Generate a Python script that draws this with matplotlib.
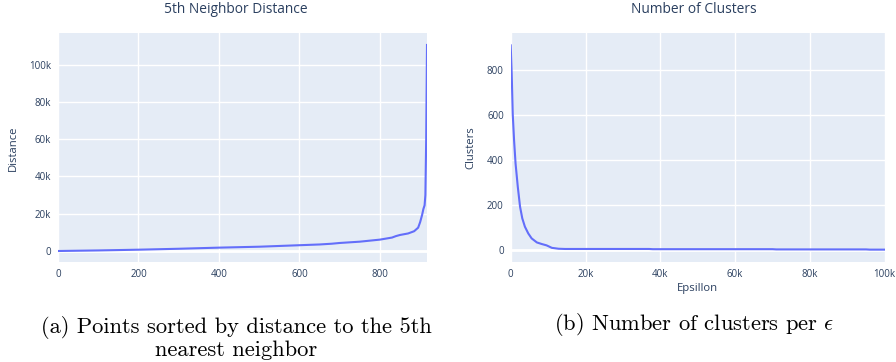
import matplotlib
matplotlib.use("Agg")
import matplotlib.pyplot as plt
from matplotlib.ticker import FuncFormatter

# 5th neighbor distance (sorted)
dist_idx = [0, 50, 100, 200, 300, 400, 500, 550, 600, 650, 680, 700, 750, 800,
            830, 840, 850, 870, 885, 895, 900, 905, 908, 911, 913, 915, 917]
dist_val = [0, 150, 300, 700, 1200, 1800, 2300, 2700, 3100, 3500, 3900, 4300,
            5000, 6100, 7200, 8000, 8600, 9400, 10600, 12500, 15500, 19500,
            22500, 24500, 30000, 60000, 110500]

# number of clusters per epsilon
eps = [0, 270, 540, 900, 1300, 1900, 2500, 3100, 3800, 4700, 5600, 7000, 8300,
       9600, 11000, 12800, 14500, 20000, 37000, 38000, 70000, 71000, 95000,
       96000, 100000]
clusters = [911, 785, 607, 489, 385, 281, 193, 141, 104, 74, 52, 34, 27, 21,
            10, 6, 5, 5, 5, 4, 4, 3, 3, 2, 2]

BG = "#E5ECF6"
TXT = "#2a3f5f"
LINE = "#636efa"
plt.rcParams["font.family"] = ["Open Sans", "DejaVu Sans"]
plt.rcParams["mathtext.fontset"] = "cm"

W, H = 896, 362
fig = plt.figure(figsize=(W / 100, H / 100), dpi=100)


def kfmt(v, pos):
    if v == 0:
        return "0"
    return f"{v / 1000:g}k"


def style(ax):
    ax.set_facecolor(BG)
    for s in ax.spines.values():
        s.set_visible(False)
    ax.grid(True, color="white", linewidth=1)
    ax.set_axisbelow(True)
    ax.tick_params(length=0, labelsize=7, labelcolor=TXT, pad=5)


def rect(l, r, t, b):
    return [l / W, 1 - b / H, (r - l) / W, (b - t) / H]


ax1 = fig.add_axes(rect(58, 427, 33, 262))
style(ax1)
ax1.axhline(0, color="white", linewidth=2, zorder=1)
ax1.plot(dist_idx, dist_val, color=LINE, linewidth=1.5, zorder=3)
ax1.set_xlim(0, 917)
ax1.set_ylim(-5900, 116900)
ax1.set_xticks([0, 200, 400, 600, 800])
ax1.set_yticks([0, 20000, 40000, 60000, 80000, 100000])
ax1.yaxis.set_major_formatter(FuncFormatter(kfmt))

ax2 = fig.add_axes(rect(510.7, 884.7, 33, 262))
style(ax2)
ax2.axhline(0, color="white", linewidth=2, zorder=1)
ax2.plot(eps, clusters, color=LINE, linewidth=1.5, zorder=3)
ax2.set_xlim(0, 100000)
ax2.set_ylim(-53, 966)
ax2.set_xticks([0, 20000, 40000, 60000, 80000, 100000])
ax2.set_yticks([0, 200, 400, 600, 800])
ax2.xaxis.set_major_formatter(FuncFormatter(kfmt))

# titles and axis labels
fig.text(236 / W, 1 - 9.5 / H, "5th Neighbor Distance", ha="center", va="center",
         fontsize=9.9, color=TXT)
fig.text(694 / W, 1 - 9.5 / H, "Number of Clusters", ha="center", va="center",
         fontsize=9.9, color=TXT)
fig.text(13 / W, 1 - 148 / H, "Distance", ha="center", va="center",
         rotation=90, fontsize=8.1, color=TXT)
fig.text(470.7 / W, 1 - 148 / H, "Clusters", ha="center", va="center",
         rotation=90, fontsize=8.1, color=TXT)
fig.text(697.7 / W, 1 - 289 / H, "Epsillon", ha="center", va="center",
         fontsize=8.1, color=TXT)

# captions
fig.text(236 / W, 1 - 338 / H,
         "(a) Points sorted by distance to the 5th\nnearest neighbor",
         ha="center", va="center", fontsize=16.2, family="cmr10",
         linespacing=1.12, color="black")
fig.text(694 / W, 1 - 325 / H, r"(b) Number of clusters per $\epsilon$",
         ha="center", va="center", fontsize=16.2, family="cmr10", color="black")

fig.savefig("out.png", dpi=100)
